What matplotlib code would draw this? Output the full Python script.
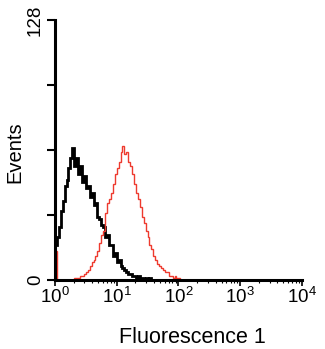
import numpy as np
import matplotlib
matplotlib.use('Agg')
import matplotlib.pyplot as plt
from matplotlib.ticker import FixedLocator, LogLocator, NullFormatter

plt.rcParams['font.family'] = ['Liberation Sans', 'DejaVu Sans']
plt.rcParams['mathtext.default'] = 'regular'

# channels are 1/32 decade wide, starting at 10^0
bins_per_decade = 32

# isotype control (black), channel 0 onward
black_counts = [17, 21, 26, 34, 39, 46, 49, 55, 60, 65, 56, 60, 52, 56, 48, 51,
                45, 46, 41, 43, 37, 38, 31, 30, 27, 26, 21, 22, 17, 17, 12, 13,
                9, 10, 7, 6, 5, 4, 3, 3, 2, 2, 1, 2, 1, 1, 0, 1, 0, 1, 0]

# stained sample (red), channel 0 onward
red_counts = [14, 0, 0, 0, 0, 0, 0, 0, 0, 0, 1, 1, 1, 2, 2, 3,
              4, 5, 7, 9, 10, 12, 14, 18, 22, 24, 33, 38, 40, 43, 47, 52,
              55, 58, 63, 66, 62, 63, 58, 56, 52, 47, 43, 40, 36, 31, 28, 24,
              21, 17, 15, 12, 10, 8, 7, 6, 5, 4, 4, 2, 2, 1, 2, 1, 1, 0]

y_ticks = [0, 32, 64, 96, 128]
y_ticklabels = ['0', '', '', '', '128']
x_ticks = [1, 10, 100, 1000, 10000]
x_ticklabels = ['$10^{0}$', '$10^{1}$', '$10^{2}$', '$10^{3}$', '$10^{4}$']

fig = plt.figure(figsize=(3.25, 3.49), dpi=100)
ax = fig.add_axes([0.169, 0.198, 0.76, 0.745])

black_edges = 10 ** (np.arange(len(black_counts) + 1) / bins_per_decade)
red_edges = 10 ** (np.arange(len(red_counts) + 1) / bins_per_decade)
ax.stairs(black_counts, black_edges, color='black', linewidth=2.0, baseline=None)
ax.stairs(red_counts, red_edges, color='#ee3a2e', linewidth=1.0, baseline=None)

ax.set_xscale('log')
ax.set_xlim(1, 10000)
ax.set_ylim(0, 128)

for s in ['top', 'right']:
    ax.spines[s].set_visible(False)
for s in ['left', 'bottom']:
    ax.spines[s].set_linewidth(2.2)

ax.yaxis.set_major_locator(FixedLocator(y_ticks))
ax.set_yticklabels(y_ticklabels, rotation=90, va='center', fontsize=13.5)
ax.xaxis.set_major_locator(FixedLocator(x_ticks))
ax.set_xticklabels(x_ticklabels, fontsize=13.5)
ax.xaxis.set_minor_locator(LogLocator(base=10, subs=np.arange(2, 10)))
ax.xaxis.set_minor_formatter(NullFormatter())
ax.tick_params(axis='y', length=6, width=1.5, pad=2)
ax.tick_params(axis='x', which='major', length=4, width=1.2, pad=1)
ax.tick_params(axis='x', which='minor', length=2.5, width=0.8)

ax.set_ylabel('Events', fontsize=14.5)
ax.yaxis.set_label_coords(-0.125, 0.49)
ax.set_xlabel('Fluorescence 1', fontsize=15.5)
ax.xaxis.set_label_coords(0.555, -0.18)

fig.savefig('out.png', dpi=100)
